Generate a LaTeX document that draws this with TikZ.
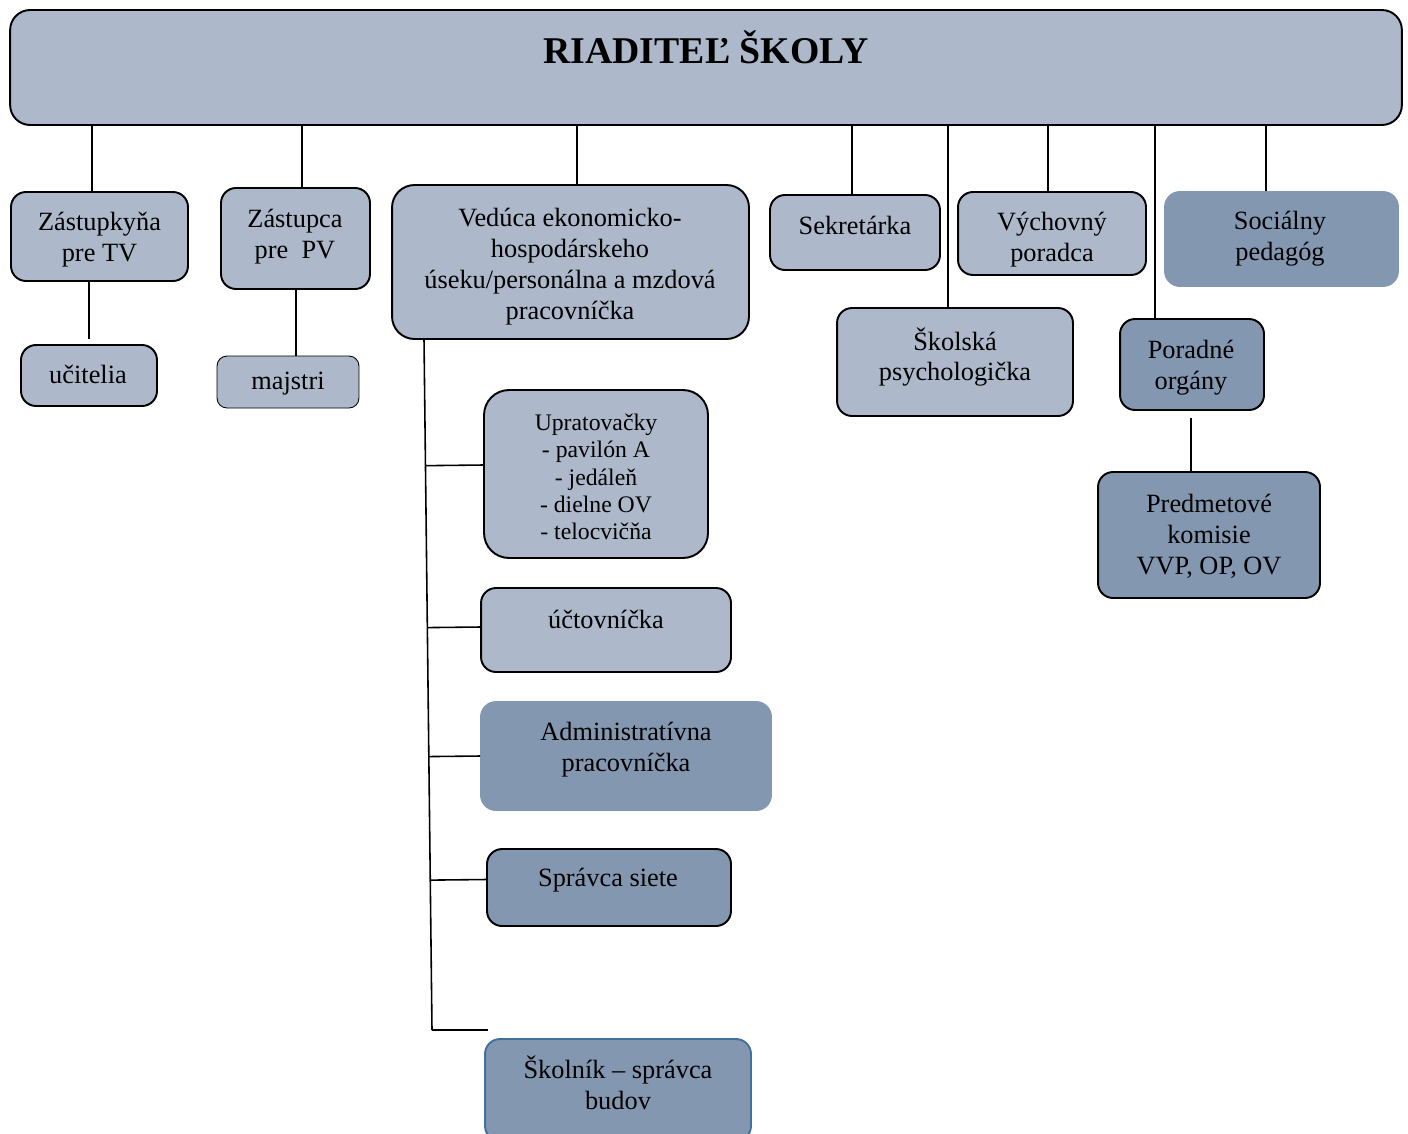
\documentclass[tikz,border=0pt]{standalone}
\usepackage{fontspec}
\setmainfont{Liberation Serif}
\usetikzlibrary{calc}
\definecolor{boxlight}{HTML}{ADB9CA}
\definecolor{boxdark}{HTML}{8497B0}
\definecolor{boxblue}{HTML}{41719C}
\tikzset{
  unit/.style={draw=black, line width=1.1pt, fill=boxlight, rounded corners=0.3cm, inner sep=0pt},
  darkunit/.style={unit, fill=boxdark},
  lbl/.style={align=center, inner sep=0pt, font=\fontsize{15pt}{17.6pt}\selectfont},
  smalllbl/.style={lbl, font=\fontsize{13.5pt}{15.6pt}\selectfont},
  link/.style={line width=0.9pt},
}
\begin{document}
\begin{tikzpicture}[x=0.02cm, y=-0.02cm]
\useasboundingbox (0,0) rectangle (1408,1133);
% boxes
\node [unit, rounded corners=0.4cm, minimum width=27.84cm, minimum height=2.3cm] (rs) at (706,67.5) {};
\node [unit, minimum width=3.54cm, minimum height=1.78cm] (zt) at (99.5,236.5) {};
\node [unit, minimum width=2.98cm, minimum height=2.02cm] (zp) at (295.5,238.5) {};
\node [unit, rounded corners=0.45cm, minimum width=7.14cm, minimum height=3.08cm] (ve) at (570.5,262) {};
\node [unit, minimum width=3.4cm, minimum height=1.5cm] (sk) at (855,232.5) {};
\node [unit, minimum width=3.76cm, minimum height=1.66cm] (vp) at (1052,233.5) {};
\node [darkunit, draw=boxdark, minimum width=4.66cm, minimum height=1.88cm] (sp) at (1281.5,239) {};
\node [unit, minimum width=4.72cm, minimum height=2.16cm] (ps) at (955,362) {};
\node [darkunit, minimum width=2.88cm, minimum height=1.82cm] (po) at (1192,364.5) {};
\node [darkunit, minimum width=4.44cm, minimum height=2.52cm] (pk) at (1209,535) {};
\node [unit, minimum width=2.72cm, minimum height=1.22cm] (uc) at (89,375.5) {};
\node [unit, line width=0.5pt, rounded corners=0.2cm, minimum width=2.84cm, minimum height=1.04cm] (ma) at (288,382) {};
\node [unit, rounded corners=0.5cm, minimum width=4.48cm, minimum height=3.36cm] (up) at (596,474) {};
\node [unit, minimum width=5cm, minimum height=1.68cm] (ut) at (606,630) {};
\node [darkunit, draw=boxdark, minimum width=5.8cm, minimum height=2.16cm] (ad) at (626,756) {};
\node [darkunit, minimum width=4.88cm, minimum height=1.54cm] (ss) at (609,887.5) {};
\node [darkunit, draw=boxblue, minimum width=5.32cm, minimum height=2.04cm] (sb) at (618,1090) {};
% texts
\node [lbl, anchor=base, font=\fontsize{21.5pt}{25pt}\selectfont\bfseries] (rsl) at (706,63) {RIADITEĽ ŠKOLY};
\node [lbl] (ztl) at (99.5,240) {Zástupkyňa\\pre TV};
\node [lbl] (zpl) at (295,237) {Zástupca\\pre~~PV};
\node [lbl] (vel) at (570,267) {Vedúca ekonomicko-\\hospodárskeho\\úseku/personálna a mzdová\\pracovníčka};
\node [lbl] (skl) at (855,225) {Sekretárka};
\node [lbl] (vpl) at (1052,240) {Výchovný\\poradca};
\node [lbl] (spl) at (1280,239) {Sociálny\\pedagóg};
\node [lbl] (psl) at (955,357) {Školská\\psychologička};
\node [lbl] (pol) at (1191,368) {Poradné\\orgány};
\node [lbl] (pkl) at (1209,536) {Predmetové\\komisie\\VVP, OP, OV};
\node [lbl] (ucl) at (88,374) {učitelia};
\node [lbl] (mal) at (288,384) {majstri};
\node [smalllbl] (upl) at (596,477) {Upratovačky\\- pavilón A\\- jedáleň\\- dielne OV\\- telocvičňa};
\node [lbl] (utl) at (606,619) {účtovníčka};
\node [lbl] (adl) at (626,750) {Administratívna\\pracovníčka};
\node [lbl] (ssl) at (608,880) {Správca siete};
\node [lbl] (sbl) at (618,1083) {Školník – správca\\budov};
% links from the head
\coordinate (r1) at (92,125);
\coordinate (r2) at (302,125);
\coordinate (r3) at (577,125);
\coordinate (r4) at (852,125);
\coordinate (r5) at (948,125);
\coordinate (r6) at (1048,125);
\coordinate (r7) at (1155,125);
\coordinate (r8) at (1266,125);
\draw [link] (r1) -- (r1 |- zt.north);
\draw [link] (r2) -- (r2 |- zp.north);
\draw [link] (r3) -- (r3 |- ve.north);
\draw [link] (r4) -- (r4 |- sk.north);
\draw [link] (r5) -- (r5 |- ps.north);
\draw [link] (r6) -- (r6 |- vp.north);
\draw [link] (r7) -- (r7 |- po.north);
\draw [link] (r8) -- (r8 |- sp.north);
% second level
\coordinate (u1) at (89,339);
\draw [link] (u1 |- zt.south) -- (u1);
\coordinate (m1) at (296,0);
\draw [link] (m1 |- zp.south) -- (m1 |- ma.north);
\coordinate (p1) at (1191,418);
\draw [link] (p1) -- (p1 |- pk.north);
% trunk under the economic head
\coordinate (t1) at (424,339);
\coordinate (t2) at (432,1030);
\draw [link] (t1) -- (t2);
\coordinate (b1) at ($(up.west)+(0,-9)$);
\coordinate (b2) at ($(ut.west)+(0,-3)$);
\coordinate (b3) at (ad.west);
\coordinate (b4) at ($(ss.west)+(0,-8)$);
\coordinate (b5) at (488,1030);
\draw [link] ($(t1)!(b1)!(t2)$) -- (b1);
\draw [link] ($(t1)!(b2)!(t2)$) -- (b2);
\draw [link] ($(t1)!(b3)!(t2)$) -- (b3);
\draw [link] ($(t1)!(b4)!(t2)$) -- (b4);
\draw [link] (t2) -- (b5);
\end{tikzpicture}
\end{document}
